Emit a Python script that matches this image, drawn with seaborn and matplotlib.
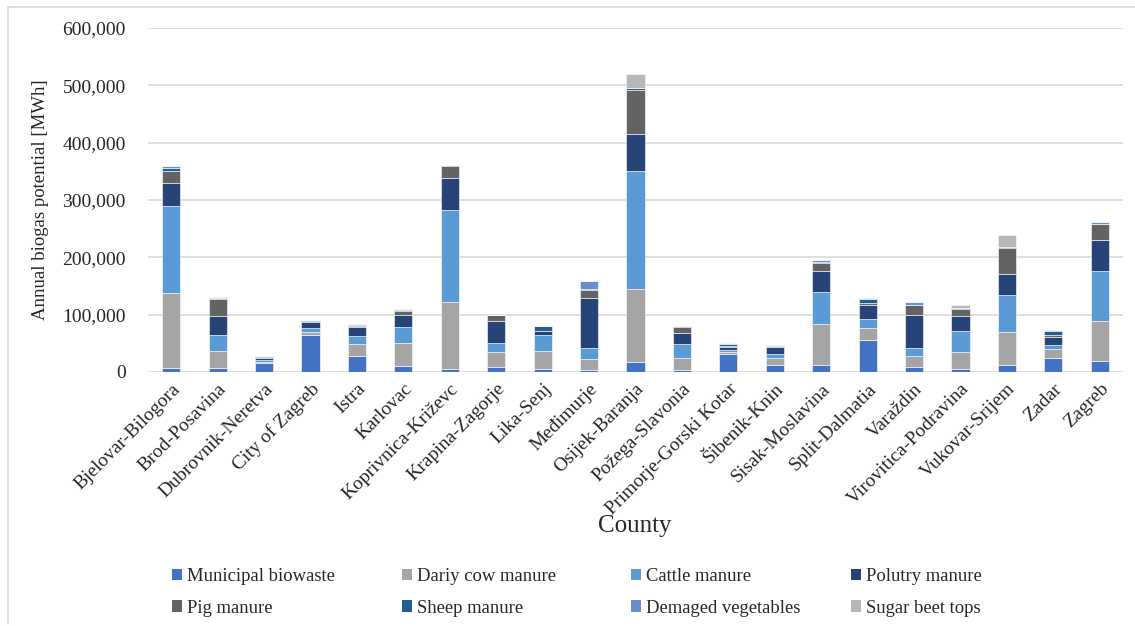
import numpy as np
import pandas as pd
import matplotlib
matplotlib.use("Agg")
import matplotlib.pyplot as plt
from matplotlib.patches import Patch
from matplotlib.lines import Line2D
from matplotlib.ticker import FuncFormatter
import seaborn as sns

counties = [
    "Bjelovar-Bilogora", "Brod-Posavina", "Dubrovnik-Neretva", "City of Zagreb",
    "Istra", "Karlovac", "Koprivnica-Križevc", "Krapina-Zagorje", "Lika-Senj",
    "Međimurje", "Osijek-Baranja", "Požega-Slavonia", "Primorje-Gorski Kotar",
    "Šibenik-Knin", "Sisak-Moslavina", "Split-Dalmatia", "Varaždin",
    "Virovitica-Podravina", "Vukovar-Srijem", "Zadar", "Zagreb",
]

# Annual biogas potential per feedstock, MWh
municipal_biowaste = [7000, 7000, 15000, 64500, 28000, 10500, 4500, 9000, 4500, 3500, 18000,
                      4000, 31500, 11500, 12000, 55000, 9000, 4500, 12000, 24500, 18500]
dairy_cow_manure = [131000, 29000, 3000, 4500, 21000, 39500, 118000, 26000, 32500, 19000, 127000,
                    20500, 4000, 13000, 72000, 21000, 19000, 30000, 58000, 15000, 70500]
cattle_manure = [151500, 28000, 3500, 8000, 14000, 29000, 160500, 15000, 28000, 20000, 205500,
                 23500, 3500, 6500, 56000, 16500, 14500, 36500, 64000, 7500, 88000]
poultry_manure = [39500, 33000, 3500, 9500, 15500, 21000, 55000, 39000, 7000, 86500, 64000,
                  19500, 4500, 12500, 35500, 25000, 57500, 26000, 37000, 14500, 53000]
pig_manure = [21000, 31000, 1000, 3000, 2500, 6500, 21000, 10000, 0, 14500, 77500,
              10500, 2500, 1000, 14000, 2500, 16000, 13000, 45000, 2500, 28000]
sheep_manure = [6000, 500, 1500, 500, 1500, 2500, 1500, 1000, 8000, 500, 3000,
                1500, 3500, 1500, 3000, 7500, 500, 2000, 2500, 7500, 1000]
damaged_vegetables = [3000, 0, 500, 0, 1500, 500, 0, 0, 1000, 15500, 500,
                      500, 500, 500, 2500, 2000, 5500, 0, 0, 1000, 2000]
sugar_beet_tops = [0, 2000, 0, 0, 0, 0, 0, 0, 0, 0, 24000,
                   500, 0, 0, 0, 0, 0, 4000, 20000, 0, 0]

series_names = ["Municipal biowaste", "Dariy cow manure", "Cattle manure", "Polutry manure",
                "Pig manure", "Sheep manure", "Demaged vegetables", "Sugar beet tops"]
series_values = [municipal_biowaste, dairy_cow_manure, cattle_manure, poultry_manure,
                 pig_manure, sheep_manure, damaged_vegetables, sugar_beet_tops]
series_colors = ["#4472C4", "#A5A5A5", "#5B9BD5", "#264478",
                 "#636363", "#255E91", "#698ED0", "#B7B7B7"]

df = pd.DataFrame({"County": counties})
for name, vals in zip(series_names, series_values):
    df[name] = vals

sns.set_theme(style="white")
plt.rcParams["font.family"] = ["Liberation Serif", "DejaVu Serif"]

W, H = 1135, 626
fig = plt.figure(figsize=(W / 100, H / 100), dpi=100)
ax = fig.add_axes([148 / W, 1 - 372 / H, (1123 - 148) / W, (372 - 28) / H])

bottom = np.zeros(len(counties))
for name, color in zip(series_names, series_colors):
    sns.barplot(data=df, x="County", y=name, color=color, bottom=bottom,
                width=0.39, errorbar=None, ax=ax, edgecolor="white",
                linewidth=0.4, order=counties, saturation=1)
    bottom = bottom + df[name].to_numpy()

ax.set_ylim(0, 600000)
ax.set_xlim(-0.5, len(counties) - 0.5)
ax.set_yticks(np.arange(0, 600001, 100000))
ax.yaxis.set_major_formatter(FuncFormatter(lambda v, p: f"{int(v):,}"))
ax.grid(axis="y", color="#D9D9D9", linewidth=1.2)
ax.set_axisbelow(True)
for s in ax.spines.values():
    s.set_visible(False)
ax.tick_params(axis="both", length=0, labelsize=14, colors="#262626")
ax.tick_params(axis="y", pad=16)
ax.tick_params(axis="x", pad=6)
plt.setp(ax.get_xticklabels(), rotation=45, ha="right", rotation_mode="anchor")

ax.set_ylabel("Annual biogas potential [MWh]", fontsize=13.5, color="#262626")
ax.yaxis.set_label_coords((49 - 148) / (1123 - 148), 0.5)
ax.set_xlabel("")
fig.text(635 / W, 1 - 526 / H, "County", fontsize=18, ha="center", va="center",
         color="#262626")

# Legend: four columns of two entries each
handles = [Patch(facecolor=c, edgecolor="none") for c in series_colors]
col_x = [172, 402, 631, 851]
for i, x in enumerate(col_x):
    leg = fig.legend(handles=[handles[i], handles[i + 4]],
                     labels=[series_names[i], series_names[i + 4]],
                     loc="upper left", bbox_to_anchor=(x / W, 1 - 568 / H),
                     frameon=False, fontsize=13.4, handlelength=0.55,
                     handleheight=0.55, handletextpad=0.25, labelspacing=0.78,
                     borderpad=0, borderaxespad=0)
    for t in leg.get_texts():
        t.set_color("#262626")

# Chart area border (top and left edges)
fig.add_artist(Line2D([8 / W, 1], [1 - 6.5 / H, 1 - 6.5 / H], color="#D9D9D9",
                      linewidth=1.2, transform=fig.transFigure))
fig.add_artist(Line2D([8 / W, 8 / W], [1 - 6.5 / H, 1 - 624 / H], color="#D9D9D9",
                      linewidth=1.2, transform=fig.transFigure))

fig.savefig("out.png", dpi=100, facecolor="white")
